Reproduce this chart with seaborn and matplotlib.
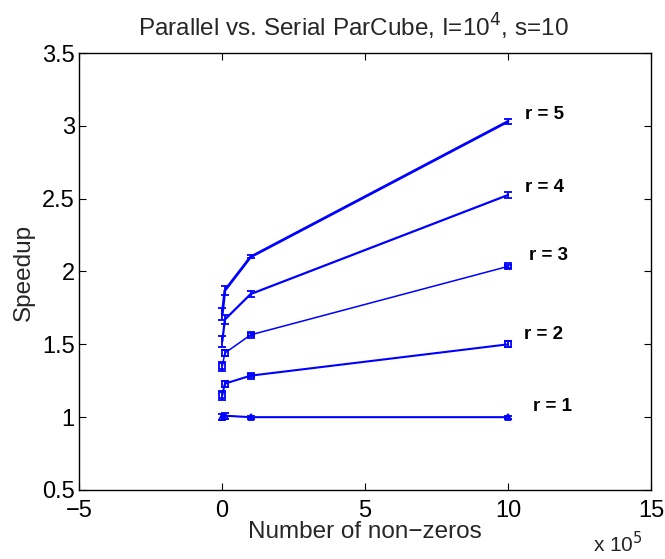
import numpy as np
import pandas as pd
import matplotlib
matplotlib.use("Agg")
import matplotlib.pyplot as plt
import seaborn as sns

# Number of non-zeros (in units of 1e5)
nnz = [0.01, 0.1, 1.0, 10.0]
ranks = [1, 2, 3, 4, 5]

speedup_r1 = [1.00, 1.01, 1.00, 1.00]
speedup_r2 = [1.15, 1.23, 1.285, 1.50]
speedup_r3 = [1.35, 1.44, 1.565, 2.035]
speedup_r4 = [1.52, 1.67, 1.845, 2.525]
speedup_r5 = [1.71, 1.87, 2.10, 3.03]

err_r1 = [0.02, 0.02, 0.01, 0.01]
err_r2 = [0.03, 0.02, 0.01, 0.02]
err_r3 = [0.03, 0.02, 0.01, 0.01]
err_r4 = [0.04, 0.03, 0.02, 0.02]
err_r5 = [0.04, 0.03, 0.01, 0.02]

labels = ["r = 1", "r = 2", "r = 3", "r = 4", "r = 5"]
label_x = [10.87, 10.56, 10.73, 10.59, 10.59]
label_y = [1.07, 1.565, 2.107, 2.58, 3.075]

series = [speedup_r1, speedup_r2, speedup_r3, speedup_r4, speedup_r5]
errors = [err_r1, err_r2, err_r3, err_r4, err_r5]
markers = ["^", "s", "s", "", ""]
widths = [1.5, 1.5, 1.1, 1.6, 2.0]

sns.set_style("ticks")
plt.rcParams["font.family"] = ["Liberation Sans", "DejaVu Sans"]

df = pd.DataFrame({
    "nnz": np.tile(nnz, len(ranks)),
    "speedup": np.concatenate(series),
    "r": np.repeat(ranks, len(nnz)),
})

W, H = 665, 559
fig = plt.figure(figsize=(W / 100, H / 100), dpi=100)
ax = fig.add_axes([79 / W, 1 - 490 / H, (651 - 79) / W, (490 - 53) / H])

blue = (0, 0, 1)
for i, r in enumerate(ranks):
    sub = df[df["r"] == r]
    sns.lineplot(data=sub, x="nnz", y="speedup", ax=ax, color=blue,
                 linewidth=widths[i], marker=markers[i] if markers[i] else None,
                 markersize=4.5, markerfacecolor="none", markeredgecolor=blue,
                 markeredgewidth=1.3, estimator=None, sort=False, legend=False)
    ax.errorbar(nnz, series[i], yerr=errors[i], fmt="none", ecolor=blue,
                elinewidth=1.3, capsize=3, capthick=1.3)
    ax.text(label_x[i], label_y[i], labels[i], fontsize=13.5, fontweight="bold",
            ha="left", va="center", color="black")

ax.set_xlim(-5, 15)
ax.set_ylim(0.5, 3.5)
ax.set_xticks([-5, 0, 5, 10, 15])
ax.set_xticklabels(["\u22125", "0", "5", "10", "15"])
ax.set_yticks([0.5, 1, 1.5, 2, 2.5, 3, 3.5])
ax.set_yticklabels(["0.5", "1", "1.5", "2", "2.5", "3", "3.5"])
ax.tick_params(direction="in", top=True, right=True, labelsize=17,
               length=5, width=0.8, colors="black")
ax.tick_params(axis="x", pad=7)
ax.tick_params(axis="y", pad=3)
for sp in ax.spines.values():
    sp.set_visible(True)
    sp.set_linewidth(1.0)
    sp.set_color("black")
ax.set_xlabel("")
ax.set_ylabel("")

fig.text(353 / W, 1 - 27 / H, "Parallel vs. Serial ParCube, I=10$^4$, s=10",
         fontsize=17.5, ha="center", va="center")
fig.text(365 / W, 1 - 532 / H, "Number of non\u2212zeros", fontsize=17.5,
         ha="center", va="center")
fig.text(24 / W, 1 - 272 / H, "Speedup", fontsize=17.5, rotation=90,
         ha="center", va="center")
fig.text(593 / W, 1 - 552 / H, "x 10$^5$", fontsize=15,
         ha="left", va="baseline")

fig.savefig("out.png", dpi=100)
